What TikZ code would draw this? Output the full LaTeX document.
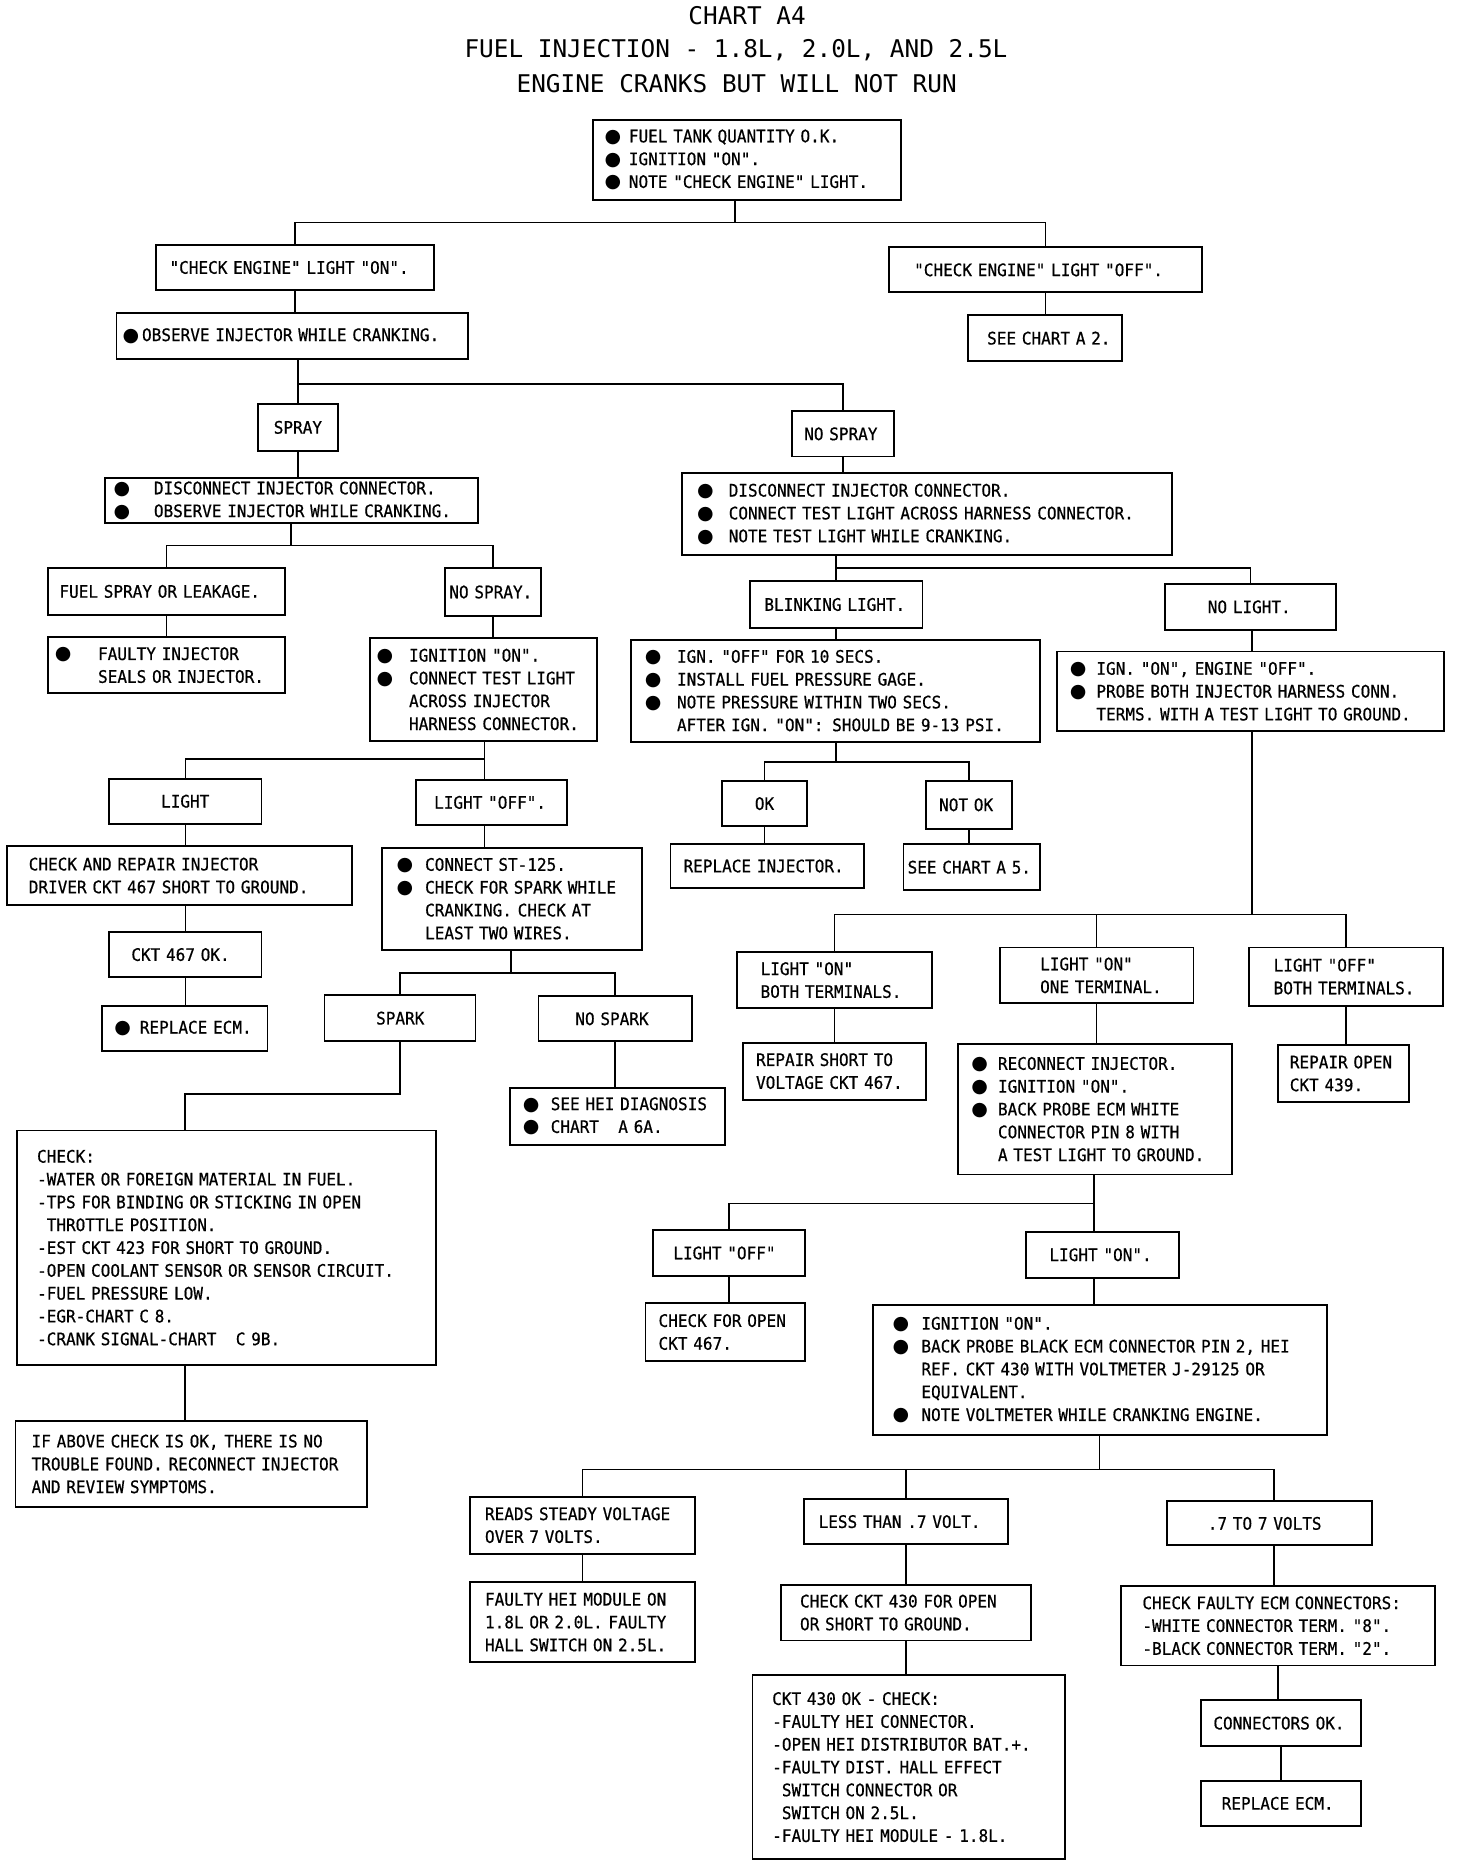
\documentclass[tikz,border=0pt]{standalone}
\usepackage{fontspec}
\newfontfamily\plotf[FakeStretch=0.93,FakeBold=0.6]{DejaVu Sans Mono}
\newfontfamily\ttlf{DejaVu Sans Mono}
\newfontfamily\symf{DejaVu Sans}
\newlength\bgap
\newcommand\bul{{\symf\fontsize{16}{19.2}\selectfont ●}}
\newcommand\bl{\makebox[\bgap][l]{\bul}}
\newcommand\cl{\hspace*{\bgap}}
\newcommand\onesp{\hspace*{8.118pt}}
\tikzset{
  box/.style={draw, line width=1.6pt, inner sep=0pt, align=left,
    font=\plotf\fontsize{14.5}{19.2}\selectfont},
  ttl/.style={font=\ttlf\fontsize{20.5}{24}\selectfont, inner sep=0pt, anchor=base},
  ln/.style={line width=1.4pt},
  pads/.style 2 args={execute at begin node={\leftskip=#1\relax\rightskip=-80pt plus 1fil\relax\setlength\bgap{#2}}},
}
\newcommand\bx[8]{%
  \pgfmathsetmacro\bxw{#4-#2}%
  \pgfmathsetmacro\bxh{#5-#3}%
  \pgfmathsetmacro\bxcx{(#2+#4)/2}%
  \pgfmathsetmacro\bxcy{(#3+#5)/2}%
  \node[box, minimum width=\bxw pt, minimum height=\bxh pt, text width=\bxw pt, pads={#6pt}{#7pt}] (#1) at (\bxcx,\bxcy) {#8};%
}
\begin{document}
\begin{tikzpicture}[x=1pt,y=-1pt]
\fill[white] (0,0) rectangle (1225,1568);
\useasboundingbox (0,0) rectangle (1225,1568);

% titles
\node[ttl] (t1) at (628.5,21) {CHART A4};
\node[ttl] (t2) at (619.1,48.2) {FUEL INJECTION - 1.8L, 2.0L, AND 2.5L};
\node[ttl] (t3) at (619.7,78) {ENGINE CRANKS BUT WILL NOT RUN};

% boxes: name, left, top, right, bottom, leftskip, bullet gap, text
\bx{b1}{499}{101}{758}{168}{9.5}{20.5}{\bl FUEL TANK QUANTITY O.K.\\\bl IGNITION "ON".\\\bl NOTE "CHECK ENGINE" LIGHT.}
\bx{b2}{131}{206}{365}{244}{11.6}{0}{"CHECK ENGINE" LIGHT "ON".}
\bx{b3}{748}{208}{1011}{246}{21}{0}{"CHECK ENGINE" LIGHT "OFF".}
\bx{b4}{98}{263}{394}{302}{5.2}{16.3}{\bl OBSERVE INJECTOR WHILE CRANKING.}
\bx{b5}{814}{265}{944}{304}{16.4}{0}{SEE CHART A 2.}
\bx{b6}{217}{340}{284}{379}{13.3}{0}{SPRAY}
\bx{b7}{666}{346}{752}{384}{10.5}{0}{NO SPRAY}
\bx{b8}{88}{402}{402}{440}{7.5}{34}{\bl DISCONNECT INJECTOR CONNECTOR.\\\bl OBSERVE INJECTOR WHILE CRANKING.}
\bx{b9}{574}{398}{986}{467}{12.5}{26.5}{\bl DISCONNECT INJECTOR CONNECTOR.\\\bl CONNECT TEST LIGHT ACROSS HARNESS CONNECTOR.\\\bl NOTE TEST LIGHT WHILE CRANKING.}
\bx{b10}{40}{478}{240}{517}{10}{0}{FUEL SPRAY OR LEAKAGE.}
\bx{b11}{374}{478}{455}{518}{4}{0}{NO SPRAY.}
\bx{b12}{40}{536}{240}{583}{6.1}{36.4}{\bl FAULTY INJECTOR\\\cl SEALS OR INJECTOR.}
\bx{b13}{311}{537}{502}{623}{5.8}{27.3}{\bl IGNITION "ON".\\\bl CONNECT TEST LIGHT\\\cl ACROSS INJECTOR\\\cl HARNESS CONNECTOR.}
\bx{b14}{92}{655}{220}{693}{43.5}{0}{LIGHT}
\bx{b15}{350}{656}{477}{694}{15.2}{0}{LIGHT "OFF".}
\bx{b16}{6}{712}{296}{761}{18.2}{0}{CHECK AND REPAIR INJECTOR\\DRIVER CKT 467 SHORT TO GROUND.}
\bx{b17}{321}{713}{540}{799}{12.6}{24}{\bl CONNECT ST-125.\\\bl CHECK FOR SPARK WHILE\\\cl CRANKING. CHECK AT\\\cl LEAST TWO WIRES.}
\bx{b18}{92}{784}{220}{822}{18.5}{0}{CKT 467 OK.}
\bx{b19}{86}{846}{225}{884}{10.2}{21.4}{\bl REPLACE ECM.}
\bx{b20}{273}{837}{400}{876}{43.4}{0}{SPARK}
\bx{b21}{453}{838}{582}{876}{31}{0}{NO SPARK}
\bx{b22}{429}{915}{610}{963}{10.9}{23.4}{\bl SEE HEI DIAGNOSIS\\\bl CHART\onesp\onesp A 6A.}
\bx{b23}{14}{951}{367}{1148}{17.2}{0}{CHECK:\\-WATER OR FOREIGN MATERIAL IN FUEL.\\-TPS FOR BINDING OR STICKING IN OPEN\\\onesp THROTTLE POSITION.\\-EST CKT 423 FOR SHORT TO GROUND.\\-OPEN COOLANT SENSOR OR SENSOR CIRCUIT.\\-FUEL PRESSURE LOW.\\-EGR-CHART C 8.\\-CRANK SIGNAL-CHART\onesp\onesp C 9B.}
\bx{b24}{13}{1195}{309}{1268}{13.6}{0}{IF ABOVE CHECK IS OK, THERE IS NO\\TROUBLE FOUND. RECONNECT INJECTOR\\AND REVIEW SYMPTOMS.}

\bx{bBL}{631}{489}{776}{528}{12}{0}{BLINKING LIGHT.}
\bx{bNL}{980}{491}{1124}{530}{36}{0}{NO LIGHT.}
\bx{bICN}{531}{538}{875}{624}{11.5}{27}{\bl IGN. "OFF" FOR 10 SECS.\\\bl INSTALL FUEL PRESSURE GAGE.\\\bl NOTE PRESSURE WITHIN TWO SECS.\\\cl AFTER IGN. "ON": SHOULD BE 9-13 PSI.}
\bx{bIGN}{889}{548}{1215}{615}{11}{22.3}{\bl IGN. "ON", ENGINE "OFF".\\\bl PROBE BOTH INJECTOR HARNESS CONN.\\\cl TERMS. WITH A TEST LIGHT TO GROUND.}
\bx{bOK}{607}{657}{679}{695}{28}{0}{OK}
\bx{bNOK}{779}{657}{851}{697}{11}{0}{NOT OK}
\bx{bREPINJ}{564}{710}{727}{747}{11}{0}{REPLACE INJECTOR.}
\bx{bA5}{760}{710}{875}{749}{3.5}{0}{SEE CHART A 5.}
\bx{b25}{620}{801}{784}{848}{19.8}{0}{LIGHT "ON"\\BOTH TERMINALS.}
\bx{b26}{841}{797}{1004}{844}{34}{0}{LIGHT "ON"\\ONE TERMINAL.}
\bx{b27}{1051}{797}{1214}{846}{20.4}{0}{LIGHT "OFF"\\BOTH TERMINALS.}
\bx{b28}{625}{877}{779}{925}{11}{0}{REPAIR SHORT TO\\VOLTAGE CKT 467.}
\bx{b29}{806}{878}{1036}{988}{11.1}{22.4}{\bl RECONNECT INJECTOR.\\\bl IGNITION "ON".\\\bl BACK PROBE ECM WHITE\\\cl CONNECTOR PIN 8 WITH\\\cl A TEST LIGHT TO GROUND.}
\bx{b30}{1075}{879}{1185}{927}{10}{0}{REPAIR OPEN\\CKT 439.}
\bx{b31}{549}{1035}{677}{1073}{17.4}{0}{LIGHT "OFF"}
\bx{b32}{863}{1036}{992}{1075}{19.8}{0}{LIGHT "ON".}
\bx{b33}{543}{1096}{677}{1145}{11}{0}{CHECK FOR OPEN\\CKT 467.}
\bx{b34}{734}{1098}{1116}{1207}{16.8}{24.3}{\bl IGNITION "ON".\\\bl BACK PROBE BLACK ECM CONNECTOR PIN 2, HEI\\\cl REF. CKT 430 WITH VOLTMETER J-29125 OR\\\cl EQUIVALENT.\\\bl NOTE VOLTMETER WHILE CRANKING ENGINE.}
\bx{b35}{395}{1259}{585}{1307}{13}{0}{READS STEADY VOLTAGE\\OVER 7 VOLTS.}
\bx{b36}{676}{1261}{848}{1299}{12.6}{0}{LESS THAN .7 VOLT.}
\bx{b37}{982}{1263}{1154}{1300}{34}{0}{.7 TO 7 VOLTS}
\bx{b38}{395}{1331}{585}{1398}{13}{0}{FAULTY HEI MODULE ON\\1.8L OR 2.0L. FAULTY\\HALL SWITCH ON 2.5L.}
\bx{b39}{657}{1333}{867}{1380}{16}{0}{CHECK CKT 430 FOR OPEN\\OR SHORT TO GROUND.}
\bx{b40}{943}{1334}{1207}{1401}{18}{0}{CHECK FAULTY ECM CONNECTORS:\\-WHITE CONNECTOR TERM. "8".\\-BLACK CONNECTOR TERM. "2".}
\bx{b41}{633}{1409}{896}{1564}{16.6}{0}{CKT 430 OK - CHECK:\\-FAULTY HEI CONNECTOR.\\-OPEN HEI DISTRIBUTOR BAT.+.\\-FAULTY DIST. HALL EFFECT\\\onesp SWITCH CONNECTOR OR\\\onesp SWITCH ON 2.5L.\\-FAULTY HEI MODULE - 1.8L.}
\bx{b42}{1010}{1430}{1145}{1469}{10.7}{0}{CONNECTORS OK.}
\bx{b43}{1010}{1498}{1145}{1536}{17.7}{0}{REPLACE ECM.}

% connectors, left half
\coordinate (j1) at (618.4,187.3);
\draw[ln] (b1.south -| j1) -- (j1);
\draw[ln] (b2.north) |- (j1) -| (b3.north);
\draw[ln] (b2.south) -- (b2.south |- b4.north);
\draw[ln] (b3.south) -- (b3.south |- b5.north);
\coordinate (j4) at (250.5,323);
\draw[ln] (b4.south -| j4) -- (b6.north -| j4);
\draw[ln] (j4) -| (b7.north);
\draw[ln] (b6.south) -- (b6.south |- b8.north);
\draw[ln] (b7.south) -- (b7.south |- b9.north);
\coordinate (j7) at (245,459);
\draw[ln] (b8.south -| j7) -- (j7);
\draw[ln] (b10.north) |- (j7) -| (b11.north);
\draw[ln] (b10.south) -- (b10.south |- b12.north);
\draw[ln] (b11.south) -- (b11.south |- b13.north);
\coordinate (j10) at (407.5,638.6);
\draw[ln] (b13.south -| j10) -- (b15.north -| j10);
\draw[ln] (j10) -| (b14.north);
\draw[ln] (b14.south) -- (b14.south |- b16.north);
\draw[ln] (b15.south -| j10) -- (b17.north -| j10);
\draw[ln] (b18.north |- b16.south) -- (b18.north);
\draw[ln] (b18.south) -- (b18.south |- b19.north);
\coordinate (j15) at (429.7,818.3);
\draw[ln] (b17.south -| j15) -- (j15);
\draw[ln] (b20.north) |- (j15) -| (b21.north);
\coordinate (j16) at (155.5,920.4);
\draw[ln] (b20.south) |- (j16) -- (b23.north -| j16);
\draw[ln] (b21.south) -- (b21.south |- b22.north);
\draw[ln] (b23.south -| j16) -- (b24.north -| j16);

% connectors, right half
\coordinate (j19) at (703.5,477.6);
\draw[ln] (b9.south -| j19) -- (bBL.north -| j19);
\draw[ln] (j19) -| (bNL.north);
\draw[ln] (bBL.south) -- (bBL.south |- bICN.north);
\coordinate (j21) at (703.5,640.8);
\draw[ln] (bICN.south -| j21) -- (j21);
\draw[ln] (bOK.north) |- (j21) -| (bNOK.north);
\draw[ln] (bOK.south) -- (bOK.south |- bREPINJ.north);
\draw[ln] (bNOK.south) -- (bNOK.south |- bA5.north);
\coordinate (j24) at (1053,769.3);
\draw[ln] (bNL.south -| j24) -- (bIGN.north -| j24);
\draw[ln] (bIGN.south -| j24) -- (j24);
\draw[ln] (b25.north) |- (j24) -| (b27.north);
\draw[ln] (b26.north) -- (b26.north |- j24);
\draw[ln] (b25.south) -- (b25.south |- b28.north);
\draw[ln] (b26.south) -- (b26.south |- b29.north);
\draw[ln] (b27.south) -- (b27.south |- b30.north);
\coordinate (j29) at (920,1012.4);
\draw[ln] (b29.south -| j29) -- (b32.north -| j29);
\draw[ln] (j29) -| (b31.north);
\draw[ln] (b31.south) -- (b31.south |- b33.north);
\draw[ln] (b32.south -| j29) -- (b34.north -| j29);
\coordinate (j32) at (925,1236.2);
\coordinate (j32r) at (1071.4,1236.2);
\draw[ln] (b34.south -| j32) -- (j32);
\draw[ln] (b35.north) |- (j32r) -- (b37.north -| j32r);
\draw[ln] (b36.north) -- (b36.north |- j32);
\draw[ln] (b35.south) -- (b35.south |- b38.north);
\draw[ln] (b36.south) -- (b36.south |- b39.north);
\draw[ln] (b37.south -| j32r) -- (b40.north -| j32r);
\draw[ln] (b39.south) -- (b39.south |- b41.north);
\draw[ln] (b40.south) -- (b40.south |- b42.north);
\draw[ln] (b42.south) -- (b42.south |- b43.north);
\end{tikzpicture}
\end{document}
